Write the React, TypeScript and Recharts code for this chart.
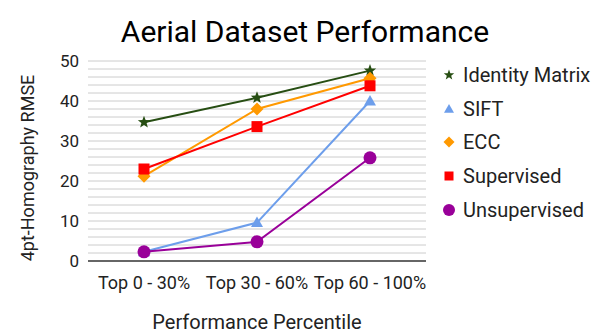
import React from 'react';
import { LineChart, Line, XAxis, YAxis, ReferenceLine, Label } from 'recharts';

const categories = ['Top 0 - 30%', 'Top 30 - 60%', 'Top 60 - 100%'];
const identityMatrix = [34.7, 40.8, 47.6];
const sift = [2.3, 9.6, 40.0];
const ecc = [21.2, 38.0, 45.7];
const supervised = [23.0, 33.6, 43.8];
const unsupervised = [2.3, 4.8, 25.8];
const yTicks = [0, 10, 20, 30, 40, 50];
const gridValues = [2, 4, 6, 8, 10, 12, 14, 16, 18, 20, 22, 24, 26, 28, 30, 32, 34, 36, 38, 40, 42, 44, 46, 48, 50];

const data = categories.map((c, i) => ({
  name: c,
  identity: identityMatrix[i],
  sift: sift[i],
  ecc: ecc[i],
  supervised: supervised[i],
  unsupervised: unsupervised[i],
}));

type Shape = 'star' | 'triangle' | 'diamond' | 'square' | 'circle';

function shapePath(shape: Shape, cx: number, cy: number, s: number): React.ReactElement {
  switch (shape) {
    case 'star': {
      const pts: string[] = [];
      for (let k = 0; k < 10; k++) {
        const r = k % 2 === 0 ? s : s * 0.42;
        const a = -Math.PI / 2 + (k * Math.PI) / 5;
        pts.push(`${cx + r * Math.cos(a)},${cy + r * Math.sin(a)}`);
      }
      return <polygon points={pts.join(' ')} />;
    }
    case 'triangle':
      return <polygon points={`${cx},${cy - s} ${cx + s},${cy + s * 0.75} ${cx - s},${cy + s * 0.75}`} />;
    case 'diamond':
      return <polygon points={`${cx},${cy - s} ${cx + s},${cy} ${cx},${cy + s} ${cx - s},${cy}`} />;
    case 'square':
      return <rect x={cx - s} y={cy - s} width={2 * s} height={2 * s} />;
    default:
      return <circle cx={cx} cy={cy} r={s} />;
  }
}

const makeDot = (shape: Shape, color: string, s: number) => (props: any) => {
  const { cx, cy, index } = props;
  if (cx == null || cy == null) return <g key={index} />;
  return (
    <g key={index} fill={color}>
      {shapePath(shape, cx, cy, s)}
    </g>
  );
};

const series = [
  { key: 'identity', label: 'Identity Matrix', color: '#274e13', shape: 'star' as Shape, size: 6.5, legendSize: 5.5 },
  { key: 'sift', label: 'SIFT', color: '#6d9eeb', shape: 'triangle' as Shape, size: 6, legendSize: 5 },
  { key: 'ecc', label: 'ECC', color: '#ff9900', shape: 'diamond' as Shape, size: 6.5, legendSize: 5.5 },
  { key: 'supervised', label: 'Supervised', color: '#ff0000', shape: 'square' as Shape, size: 5.5, legendSize: 4.5 },
  { key: 'unsupervised', label: 'Unsupervised', color: '#990099', shape: 'circle' as Shape, size: 6.5, legendSize: 6 },
];

const YLabel = (props: any) => {
  const vb = props.viewBox || { x: 0, y: 0, width: 0, height: 0 };
  const x = vb.x + 34;
  const y = vb.y + vb.height / 2 + 7;
  return (
    <text x={x} y={y} transform={`rotate(-90, ${x}, ${y})`} textAnchor="middle" fill="#222" fontSize={18} fontFamily="Roboto">
      4pt-Homography RMSE
    </text>
  );
};

export default function App() {
  return (
    <div style={{ position: 'absolute', left: 0, top: 0, width: 608, height: 335, fontFamily: 'Roboto, sans-serif', background: '#fff' }}>
      <div style={{ position: 'absolute', left: 0, top: 13, width: 610, textAlign: 'center', fontSize: 30, color: '#000', lineHeight: '38px' }}>
        Aerial Dataset Performance
      </div>
      <LineChart width={608} height={335} data={data} margin={{ top: 61, right: 182, bottom: 44, left: 0 }}>
        {gridValues.map((v) => (
          <ReferenceLine key={v} y={v} stroke="#cccccc" strokeWidth={1} />
        ))}
        <ReferenceLine y={0} stroke="#333333" strokeWidth={1.5} />
        <XAxis
          dataKey="name"
          axisLine={false}
          tickLine={false}
          tickSize={0}
          tickMargin={15}
          height={30}
          padding={{ left: 56, right: 56 }}
          tick={{ fill: '#222', fontSize: 18, fontFamily: 'Roboto' }}
          interval={0}
        >
          <Label value="Performance Percentile" position="insideBottom" offset={-38} style={{ fill: '#222', fontSize: 20, fontFamily: 'Roboto' }} />
        </XAxis>
        <YAxis
          width={88}
          domain={[0, 50]}
          ticks={yTicks}
          axisLine={false}
          tickLine={false}
          tickSize={0}
          tickMargin={9}
          tick={{ fill: '#222', fontSize: 17, fontFamily: 'Roboto' }}
        >
          <Label content={<YLabel />} />
        </YAxis>
        {series.map((s) => (
          <Line
            key={s.key}
            dataKey={s.key}
            stroke={s.color}
            strokeWidth={2}
            dot={makeDot(s.shape, s.color, s.size)}
            activeDot={false}
            isAnimationActive={false}
            type="linear"
          />
        ))}
      </LineChart>
      <div style={{ position: 'absolute', left: 440, top: 58, width: 168 }}>
        {series.map((s) => (
          <div key={s.key} style={{ height: 33.8, display: 'flex', alignItems: 'center', fontSize: 20, color: '#222' }}>
            <svg width={18} height={18} style={{ marginLeft: 0, marginRight: 5 }}>
              <g fill={s.color}>{shapePath(s.shape, 9, 9, s.legendSize)}</g>
            </svg>
            <span>{s.label}</span>
          </div>
        ))}
      </div>
    </div>
  );
}
